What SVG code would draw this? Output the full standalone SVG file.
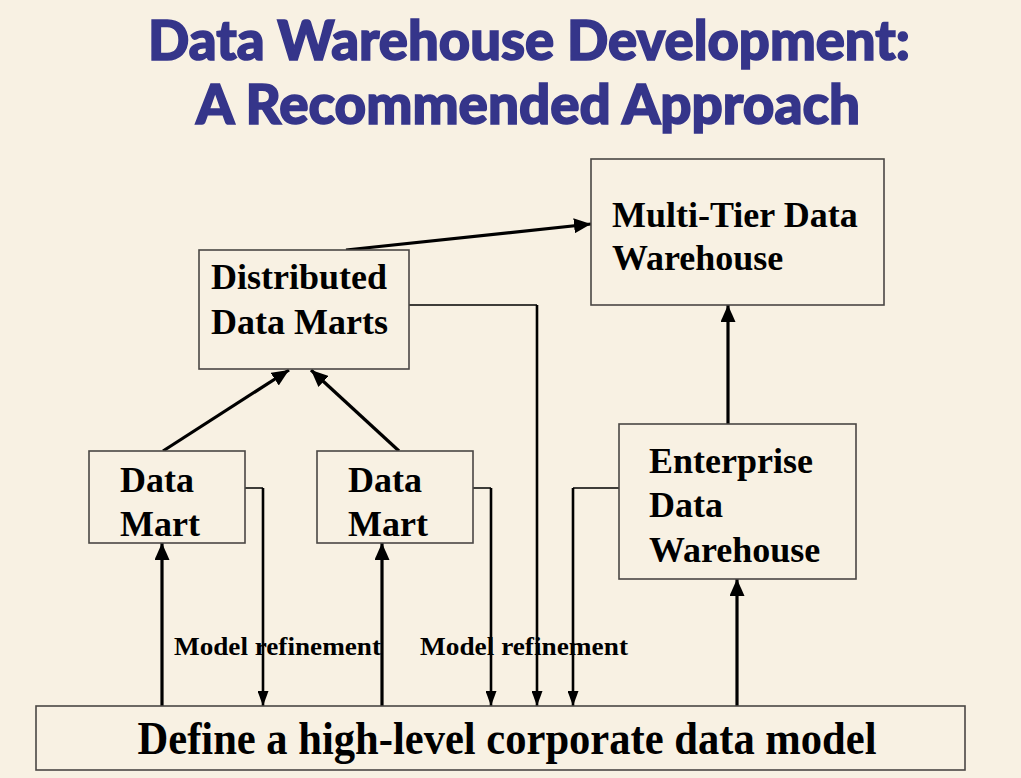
<svg xmlns="http://www.w3.org/2000/svg" width="1021" height="778" viewBox="0 0 1021 778">
<style>
.bg{fill:#F8F1E3}
.box{fill:#F8F1E3;stroke:#4a4744;stroke-width:1.6}
.t{font-family:"Liberation Serif","Times New Roman",serif;font-weight:bold;font-size:36px;fill:#000}
.lbl{font-family:"Liberation Serif","Times New Roman",serif;font-weight:bold;font-size:25px;fill:#000}
.title{font-family:Lato,"Open Sans",sans-serif;font-weight:900;font-size:55px;fill:#35358A;stroke:#35358A;stroke-width:1.6}
.thick{stroke:#000;stroke-width:3.2;fill:none}
.thin{stroke:#000;stroke-width:1.5;fill:none}
.mid{stroke:#000;stroke-width:2.6;fill:none}
</style>
<defs>
<marker id="ah" viewBox="0 0 17 15" refX="17" refY="7.5" markerWidth="17" markerHeight="15" markerUnits="userSpaceOnUse" orient="auto"><path d="M0,0 L17,7.5 L0,15 z" fill="#000"/></marker>
<marker id="ahs" viewBox="0 0 15 11" refX="15" refY="5.5" markerWidth="15" markerHeight="11" markerUnits="userSpaceOnUse" orient="auto"><path d="M0,0 L15,5.5 L0,11 z" fill="#000"/></marker>
</defs>
<rect class="bg" x="0" y="0" width="1021" height="778"/>
<g id="title">
<text class="title" x="529" y="60" text-anchor="middle" textLength="762" lengthAdjust="spacingAndGlyphs">Data Warehouse Development:</text>
<text class="title" x="528" y="124" text-anchor="middle" textLength="664" lengthAdjust="spacingAndGlyphs">A Recommended Approach</text>
</g>
<g id="connectors">
<line class="thick" x1="346" y1="250" x2="591" y2="224" marker-end="url(#ah)"/>
<line class="thick" x1="163" y1="451" x2="289" y2="370" marker-end="url(#ah)"/>
<line class="thick" x1="399" y1="451" x2="311" y2="370" marker-end="url(#ah)"/>
<line class="thick" x1="728" y1="424" x2="728" y2="305" marker-end="url(#ah)"/>
<line class="thick" x1="162" y1="706" x2="162" y2="543" marker-end="url(#ah)"/>
<line class="thick" x1="382" y1="706" x2="382" y2="543" marker-end="url(#ah)"/>
<line class="thick" x1="737" y1="706" x2="737" y2="579" marker-end="url(#ah)"/>
<polyline class="thin" points="245,488 263,488"/>
<line class="mid" x1="263" y1="488" x2="263" y2="706" marker-end="url(#ahs)"/>
<polyline class="thin" points="473,488 491,488"/>
<line class="mid" x1="491" y1="488" x2="491" y2="706" marker-end="url(#ahs)"/>
<polyline class="thin" points="409,305 537,305"/>
<line class="mid" x1="537" y1="305" x2="537" y2="706" marker-end="url(#ahs)"/>
<polyline class="thin" points="619,488 573,488"/>
<line class="mid" x1="573" y1="488" x2="573" y2="706" marker-end="url(#ahs)"/>
<text class="lbl" x="174" y="655" textLength="207" lengthAdjust="spacingAndGlyphs">Model refinement</text>
<text class="lbl" x="420" y="655" textLength="208" lengthAdjust="spacingAndGlyphs">Model refinement</text>
</g>
<g id="multi-tier">
<rect class="box" x="591" y="159" width="293" height="146"/>
<text class="t" x="612" y="227">Multi-Tier Data</text>
<text class="t" x="612" y="270">Warehouse</text>
</g>
<g id="distributed">
<rect class="box" x="199" y="250" width="210" height="119"/>
<text class="t" x="211" y="289">Distributed</text>
<text class="t" x="211" y="334">Data Marts</text>
</g>
<g id="datamart1">
<rect class="box" x="89" y="451" width="156" height="92"/>
<text class="t" x="120" y="492">Data</text>
<text class="t" x="120" y="536">Mart</text>
</g>
<g id="datamart2">
<rect class="box" x="317" y="451" width="156" height="92"/>
<text class="t" x="348" y="492">Data</text>
<text class="t" x="348" y="536">Mart</text>
</g>
<g id="enterprise">
<rect class="box" x="619" y="424" width="237" height="155"/>
<text class="t" x="649" y="473">Enterprise</text>
<text class="t" x="649" y="517">Data</text>
<text class="t" x="649" y="562">Warehouse</text>
</g>
<g id="corporate">
<rect class="box" x="36" y="706" width="929" height="64"/>
<text class="t" x="507" y="754" text-anchor="middle" style="font-size:47px" textLength="739" lengthAdjust="spacingAndGlyphs">Define a high-level corporate data model</text>
</g>
</svg>
